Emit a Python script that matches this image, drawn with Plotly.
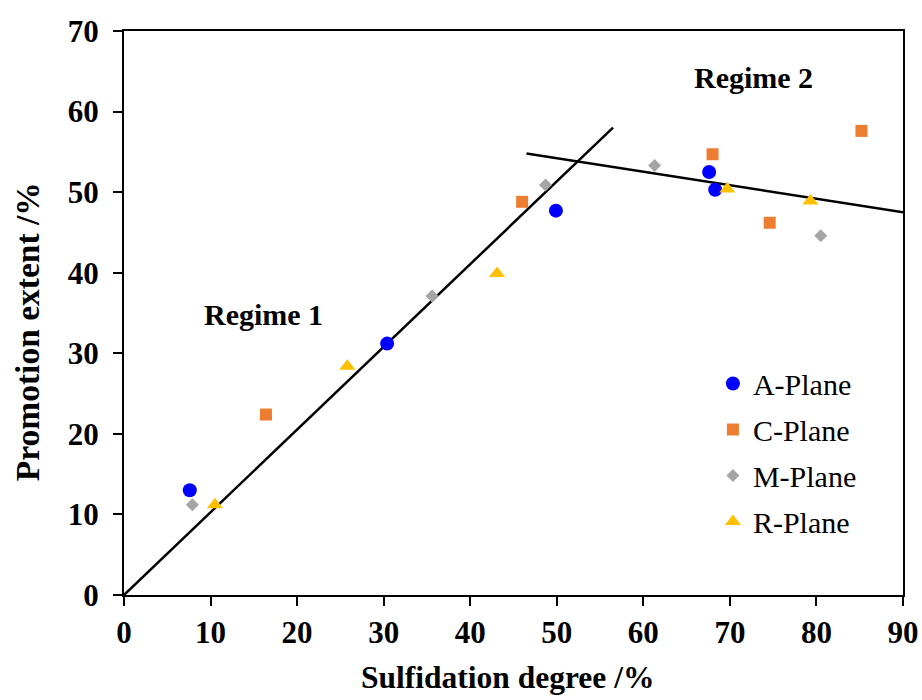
import plotly.graph_objects as go

# ---- data ----
a_x = [7.6, 30.4, 49.9, 67.6, 68.3]
a_y = [13.0, 31.2, 47.7, 52.5, 50.3]

c_x = [16.4, 46.0, 68.0, 74.6, 85.2]
c_y = [22.4, 48.8, 54.7, 46.2, 57.6]

m_x = [7.9, 35.6, 48.7, 61.3, 80.5]
m_y = [11.2, 37.1, 50.9, 53.3, 44.6]

r_x = [10.5, 25.8, 43.1, 69.7, 79.3]
r_y = [11.2, 28.4, 39.9, 50.4, 48.9]

regime1_x = [0, 56.5]
regime1_y = [0, 58.0]
regime2_x = [46.5, 90]
regime2_y = [54.8, 47.5]

x_ticks = [0, 10, 20, 30, 40, 50, 60, 70, 80, 90]
y_ticks = [0, 10, 20, 30, 40, 50, 60, 70]

FONT = "Liberation Serif"

fig = go.Figure()

fig.add_trace(go.Scatter(x=regime1_x, y=regime1_y, mode="lines",
                         line=dict(color="black", width=2.5), showlegend=False))
fig.add_trace(go.Scatter(x=regime2_x, y=regime2_y, mode="lines",
                         line=dict(color="black", width=2.5), showlegend=False))

series = [
    ("A-Plane", a_x, a_y, "circle", "#0000FF", 14),
    ("C-Plane", c_x, c_y, "square", "#ED7D31", 12),
    ("M-Plane", m_x, m_y, "diamond", "#A5A5A5", 10),
    ("R-Plane", r_x, r_y, "triangle-up", "#FFC000", 14),
]
for name, xs, ys, sym, col, sz in series:
    fig.add_trace(go.Scatter(x=xs, y=ys, mode="markers", name=name,
                             legendgroup=name,
                             marker=dict(symbol=sym, color=col, size=sz,
                                         line=dict(width=0))))

fig.add_annotation(x=16.1, y=34.8, text="Regime 1", showarrow=False,
                   font=dict(family=FONT, size=30, color="black", weight="bold"))
fig.add_annotation(x=72.7, y=64.2, text="Regime 2", showarrow=False,
                   font=dict(family=FONT, size=30, color="black", weight="bold"))

# axis titles placed as paper annotations
fig.add_annotation(xref="paper", yref="paper", x=-0.1245, y=0.466,
                   text="Promotion extent /%", textangle=-90, showarrow=False,
                   xanchor="center", yanchor="middle",
                   font=dict(family=FONT, size=33.5, color="black", weight="bold"))
fig.add_annotation(xref="paper", yref="paper", x=0.492, y=-0.147,
                   text="Sulfidation degree /%", showarrow=False,
                   xanchor="center", yanchor="middle",
                   font=dict(family=FONT, size=31.5, color="black", weight="bold"))

axis_common = dict(
    showgrid=False, zeroline=False, automargin=False,
    showline=True, linecolor="black", linewidth=2, mirror=True,
    ticks="outside", ticklen=9, tickwidth=2, tickcolor="black",
    tickfont=dict(family=FONT, size=31, color="black", weight="bold"),
)

fig.update_xaxes(range=[0, 90], tickvals=x_ticks, ticklabelstandoff=0, **axis_common)
fig.update_yaxes(range=[0, 70], tickvals=y_ticks, ticklabelstandoff=8, **axis_common)

fig.update_layout(
    width=922, height=700,
    margin=dict(l=124, r=19, t=31, b=105),
    plot_bgcolor="white", paper_bgcolor="white",
    legend=dict(x=0.756, xanchor="left", y=0.421, yanchor="top",
                font=dict(family=FONT, size=30, color="black"),
                tracegroupgap=4, bgcolor="rgba(0,0,0,0)"),
)

fig.write_html("out.html")
